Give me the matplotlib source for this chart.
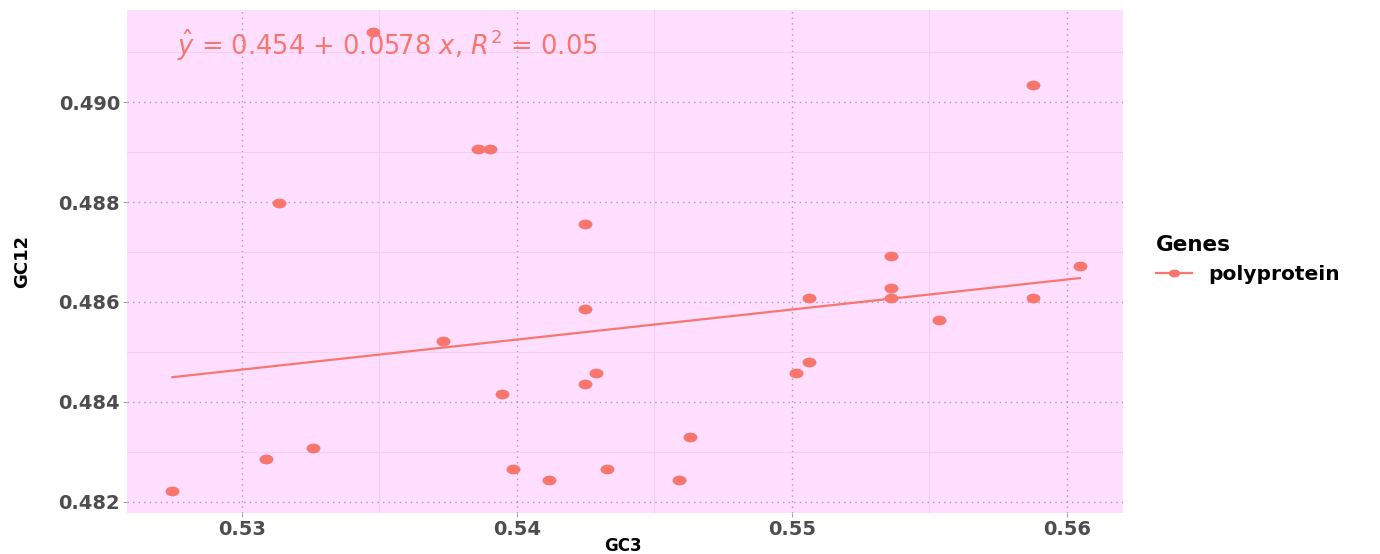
import numpy as np
import matplotlib
matplotlib.use('Agg')
import matplotlib.pyplot as plt
from matplotlib.path import Path
from matplotlib.transforms import Affine2D
from matplotlib.lines import Line2D

# values
gc3 = [0.52747, 0.53089, 0.53133, 0.5326, 0.53475, 0.53732, 0.53859, 0.53902,
       0.53947, 0.53987, 0.54117, 0.54247, 0.54247, 0.54247, 0.54289, 0.54329,
       0.54588, 0.54631, 0.55016, 0.55061, 0.55061, 0.55361, 0.55361, 0.55361,
       0.55534, 0.55876, 0.55876, 0.56047]
gc12 = [0.48222, 0.48286, 0.48799, 0.48308, 0.49141, 0.48521, 0.48906, 0.48906,
        0.48415, 0.48265, 0.48243, 0.48757, 0.48586, 0.48436, 0.48457, 0.48265,
        0.48243, 0.48329, 0.48457, 0.48607, 0.48479, 0.48693, 0.48628, 0.48607,
        0.48564, 0.49035, 0.48607, 0.48671]
gene = 'polyprotein'
eq_text = r'$\hat{y}$ = 0.454 + 0.0578 $x$, $R^2$ = 0.05'

x_ticks = [0.53, 0.54, 0.55, 0.56]
y_ticks = [0.482, 0.484, 0.486, 0.488, 0.490]

col = '#F8766D'
plt.rcParams['font.family'] = ['DejaVu Sans']

# the reference is stretched sideways, so the dots are a bit oval
oval = Path.unit_circle().transformed(Affine2D().scale(1.5, 1.0))

fig = plt.figure(figsize=(13.8, 5.54), dpi=100)
ax = fig.add_axes([127 / 1380, 1 - 513 / 554, 996 / 1380, 503 / 554])
ax.set_facecolor('#FFDEFF')

x = np.array(gc3)
y = np.array(gc12)
b, a = np.polyfit(x, y, 1)
xs = np.array([x.min(), x.max()])
ax.plot(xs, a + b * xs, color=col, lw=1.6, zorder=3)
ax.plot(x, y, ls='none', marker=oval, ms=9, color=col, mec=col, zorder=4)

ax.set_xlim(0.52582, 0.56204)
ax.set_ylim(0.48177, 0.49185)
ax.set_xticks(x_ticks)
ax.set_xticklabels(['%.2f' % v for v in x_ticks])
ax.set_yticks(y_ticks)
ax.set_yticklabels(['%.3f' % v for v in y_ticks])
ax.set_xticks([0.535, 0.545, 0.555], minor=True)
ax.set_yticks([0.483, 0.485, 0.487, 0.489, 0.491], minor=True)

ax.grid(which='major', color='#A8A0A8', ls=(0, (1, 3)), lw=1.0)
ax.grid(which='minor', color='#F3D0F3', ls='-', lw=0.8)
ax.set_axisbelow(True)
for s in ax.spines.values():
    s.set_visible(False)
ax.tick_params(which='major', length=3, color='#A8A0A8', labelsize=14,
               labelcolor='#4D4D4D', pad=2)
ax.tick_params(which='minor', length=0)
for t in ax.get_xticklabels() + ax.get_yticklabels():
    t.set_fontweight('bold')

ax.set_xlabel('GC3', fontsize=12, fontweight='bold')
ax.xaxis.set_label_coords(0.4975, -0.048)
ax.set_ylabel('GC12', fontsize=13, fontweight='bold')
ax.yaxis.set_label_coords(-0.096, 0.5)

ax.text(0.0503, 0.93, eq_text, transform=ax.transAxes, color=col,
        fontsize=18.5, va='center', ha='left')

handle = Line2D([], [], color=col, lw=1.6, marker=oval, ms=7)
leg = ax.legend([handle], [gene], title='Genes', loc='upper left',
                bbox_to_anchor=(1138 / 1380, 1 - 217 / 554),
                bbox_transform=fig.transFigure, frameon=False,
                prop={'weight': 'bold', 'size': 14.5}, handlelength=1.8,
                title_fontproperties={'weight': 'bold', 'size': 15.5})
leg._legend_box.align = 'left'

fig.savefig('out.png', dpi=100)
